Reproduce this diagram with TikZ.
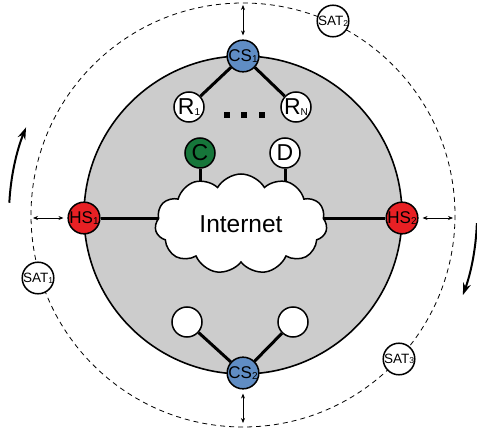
\documentclass[tikz,border=0pt]{standalone}
\usepackage{fontspec}
\setmainfont{Liberation Sans}
\usetikzlibrary{shapes.symbols,arrows.meta,calc}
\pgfdeclarelayer{bg}
\pgfdeclarelayer{midlayer}
\pgfsetlayers{bg,midlayer,main}
\definecolor{grayfill}{RGB}{204,204,204}
\definecolor{csblue}{RGB}{96,141,196}
\definecolor{hsred}{RGB}{232,32,36}
\definecolor{cgreen}{RGB}{22,118,58}
\newcommand\mysub[1]{\raisebox{-0.6pt}{\fontsize{10}{10}\selectfont #1}}
\newcommand\mysubs[1]{\raisebox{-0.6pt}{\fontsize{8.5}{8.5}\selectfont #1}}
\begin{document}
\begin{tikzpicture}[x=1pt,y=-1pt,
  nd/.style={circle,draw,line width=1.5pt,minimum size=31pt,inner sep=0pt,fill=white},
  smallnd/.style={circle,draw,line width=1.5pt,minimum size=30pt,inner sep=0pt,fill=white},
  bigtxt/.style={font=\fontsize{23}{23}\selectfont},
  medtxt/.style={font=\fontsize{17}{17}\selectfont},
  sattxt/.style={font=\fontsize{13.5}{13.5}\selectfont},
  link/.style={line width=3pt},
  dbl/.style={{Stealth[length=5pt,width=4pt]}-{Stealth[length=5pt,width=4pt]},line width=0.7pt,shorten >=4pt},
  rot/.style={line width=2pt,-{Stealth[length=12pt,width=8pt]}}
]
\useasboundingbox (0,0) rectangle (477,436);
\coordinate (ctr) at (243,215);
\begin{pgfonlayer}{bg}
  \filldraw[fill=grayfill,line width=1.6pt] (ctr) circle[radius=159];
  \draw[dash pattern=on 5pt off 4pt,line width=0.8pt] (ctr) circle[radius=212];
\end{pgfonlayer}

% nodes
\node[nd,fill=csblue,medtxt] (CS1) at (243,56) {CS\mysub{1}};
\node[nd,fill=csblue,medtxt] (CS2) at (243,373) {CS\mysub{2}};
\node[nd,fill=hsred,medtxt] (HS1) at (84,218) {HS\mysub{1}};
\node[nd,fill=hsred,medtxt] (HS2) at (402,218) {HS\mysub{2}};
\node[smallnd,bigtxt] (R1) at (189,107) {R\mysub{1}};
\node[smallnd,bigtxt] (RN) at (296,107) {R\mysub{N}};
\node[smallnd,fill=cgreen,bigtxt] (C) at (200,153) {C};
\node[smallnd,bigtxt] (D) at (285,153) {D};
\node[smallnd] (B1) at (187,322) {};
\node[smallnd] (B2) at (293,322) {};
\node[nd,sattxt] (SAT1) at (38,278) {SAT\mysubs{1}};
\node[nd,sattxt] (SAT2) at (333,21) {SAT\mysubs{2}};
\node[nd,sattxt] (SAT3) at (399,359) {SAT\mysubs{3}};
\node[cloud,draw,fill=white,line width=1.5pt,cloud puffs=11,cloud puff arc=120,
      aspect=1.75,minimum width=172pt,minimum height=100pt,inner sep=0pt,
      font=\fontsize{24.5}{24.5}\selectfont] (inet) at (241,224) {Internet};

% dots
\foreach \x in {227,244,262} \fill (\x-2.6,112.5) rectangle (\x+2.6,117.7);

% connectors
\begin{pgfonlayer}{midlayer}
  \draw[link] (CS1) -- (R1);
  \draw[link] (CS1) -- (RN);
  \draw[link] (CS2) -- (B1);
  \draw[link] (CS2) -- (B2);
  \draw[link] (C) -- (C |- inet.center);
  \draw[link] (D) -- (D |- inet.center);
  \draw[link] (HS1) -- (HS1 -| inet.center);
  \draw[link] (HS2) -- (HS2 -| inet.center);
\end{pgfonlayer}

% double arrows
\coordinate (ta) at (243,5);
\coordinate (ba) at (243,423);
\coordinate (la) at (33,218);
\coordinate (ra) at (453,218);
\draw[dbl] (ta) -- (CS1);
\draw[dbl] (ba) -- (CS2);
\draw[dbl] (la) -- (HS1);
\draw[dbl] (ra) -- (HS2);

% rotation arrows
\draw[rot] ($(ctr)+(-177:234)$) arc[start angle=-177,end angle=-158,radius=234];
\draw[rot] ($(ctr)+(2:234)$) arc[start angle=2,end angle=20,radius=234];
\end{tikzpicture}
\end{document}
